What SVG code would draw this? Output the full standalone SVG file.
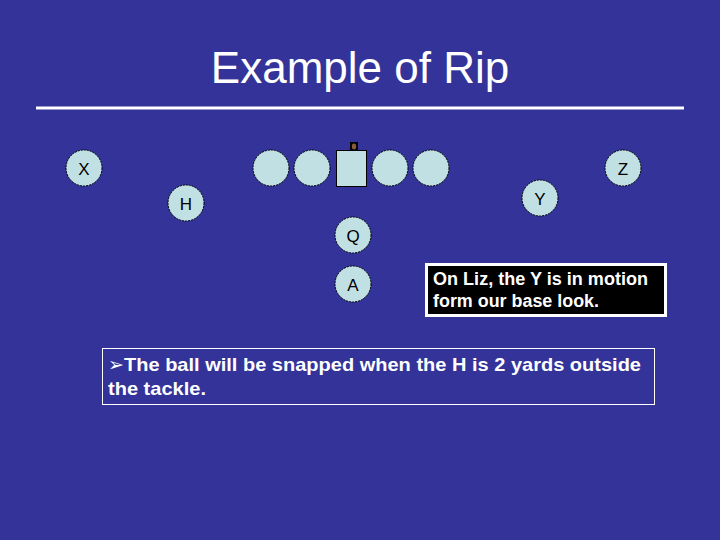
<svg xmlns="http://www.w3.org/2000/svg" width="720" height="540" viewBox="0 0 720 540">
<style>
.p{fill:#c0e0e4;stroke:#000;stroke-width:1;stroke-dasharray:2 1}
.l{font-family:"Liberation Sans",Arial,sans-serif;font-size:17px;fill:#000;text-anchor:middle;dominant-baseline:central}
.w{font-family:"Liberation Sans",Arial,sans-serif;font-weight:bold;fill:#fff}
</style>
<rect width="720" height="540" fill="#333399"/>
<text x="360" y="83" font-family="Liberation Sans,Arial,sans-serif" font-size="44" fill="#fff" text-anchor="middle">Example of Rip</text>
<rect x="36" y="106.5" width="648" height="3" fill="#fff"/>
<g id="connectors"></g>
<g id="X"><circle class="p" cx="84" cy="168" r="18"/><text class="l" x="84" y="169">X</text></g>
<g id="LT"><circle class="p" cx="271" cy="168" r="18"/></g>
<g id="LG"><circle class="p" cx="312" cy="168" r="18"/></g>
<g id="C"><rect x="336.5" y="150.5" width="30" height="36" fill="#c0e0e4" stroke="#000"/><rect x="350" y="142" width="8" height="9" fill="#000"/><ellipse cx="354" cy="146.5" rx="2.2" ry="3" fill="#8a5a3c"/></g>
<g id="RG"><circle class="p" cx="390" cy="168" r="18"/></g>
<g id="RT"><circle class="p" cx="431" cy="168" r="18"/></g>
<g id="Z"><circle class="p" cx="623" cy="168" r="18"/><text class="l" x="623" y="169">Z</text></g>
<g id="Y"><circle class="p" cx="540" cy="198" r="18"/><text class="l" x="540" y="199">Y</text></g>
<g id="H"><circle class="p" cx="186" cy="203" r="18"/><text class="l" x="186" y="204">H</text></g>
<g id="Q"><circle class="p" cx="353" cy="235" r="18"/><text class="l" x="353" y="236">Q</text></g>
<g id="A"><circle class="p" cx="353" cy="284" r="18"/><text class="l" x="353" y="285">A</text></g>
<g id="note"><rect x="426.5" y="264.5" width="239" height="51" fill="#000" stroke="#fff" stroke-width="3"/>
<text class="w" font-size="17.5"><tspan x="433" y="285" textLength="215" lengthAdjust="spacingAndGlyphs">On Liz, the Y is in motion</tspan><tspan x="433" y="307" textLength="166" lengthAdjust="spacingAndGlyphs">form our base look.</tspan></text></g>
<g id="bullet"><rect x="102.5" y="348.5" width="552" height="56" fill="none" stroke="#fff" stroke-width="1"/>
<text class="w" font-size="19"><tspan x="108" y="371" font-weight="normal" font-family="DejaVu Sans,sans-serif" font-size="19">➢</tspan><tspan x="124" y="371" textLength="517" lengthAdjust="spacingAndGlyphs">The ball will be snapped when the H is 2 yards outside</tspan><tspan x="108" y="395" textLength="98" lengthAdjust="spacingAndGlyphs">the tackle.</tspan></text></g>
</svg>
